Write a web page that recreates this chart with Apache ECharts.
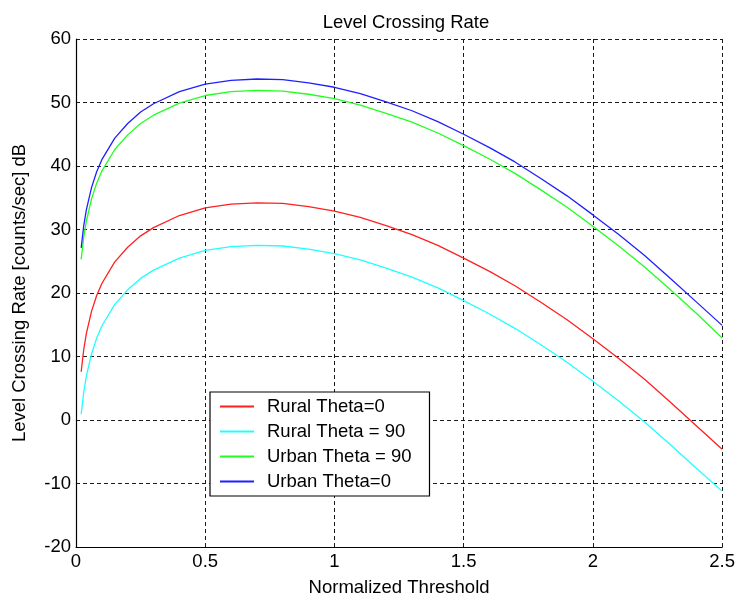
<!DOCTYPE html>
<html>
<head>
<meta charset="utf-8">
<title>Level Crossing Rate</title>
<script src="https://cdn.jsdelivr.net/npm/echarts@6/dist/echarts.min.js"></script>
<style>
  html, body { margin: 0; padding: 0; background: #ffffff; }
  #chart { width: 738px; height: 602px; }
</style>
</head>
<body>
<div id="chart"></div>
<script>
// Normalized threshold values (x) shared by all curves
const threshold = [0.02, 0.03, 0.04, 0.06, 0.08, 0.1, 0.15, 0.2, 0.25, 0.3, 0.4, 0.5, 0.6, 0.7, 0.8, 0.9,
  1.0, 1.1, 1.2, 1.3, 1.4, 1.5, 1.6, 1.7, 1.8, 1.9, 2.0, 2.1, 2.2, 2.3, 2.4, 2.5];

// Level crossing rate in dB for each environment / angle
const ruralTheta0 = [7.6, 11.1, 13.6, 17.1, 19.6, 21.5, 24.9, 27.2, 29.0, 30.3, 32.2, 33.4, 34.0, 34.2, 34.1, 33.6,
  32.9, 31.9, 30.6, 29.2, 27.5, 25.5, 23.4, 21.1, 18.5, 15.8, 12.8, 9.7, 6.4, 2.8, -0.9, -4.6];
const ruralTheta90 = [0.9, 4.4, 6.9, 10.4, 12.9, 14.8, 18.2, 20.5, 22.3, 23.6, 25.5, 26.7, 27.3, 27.5, 27.4, 26.9,
  26.2, 25.2, 23.9, 22.5, 20.8, 18.8, 16.7, 14.4, 11.8, 9.1, 6.1, 3.0, -0.3, -3.9, -7.6, -11.2];
const urbanTheta90 = [25.3, 28.8, 31.3, 34.8, 37.3, 39.2, 42.6, 44.9, 46.7, 48.0, 49.9, 51.1, 51.7, 51.9, 51.8, 51.3,
  50.6, 49.6, 48.3, 46.9, 45.2, 43.2, 41.1, 38.8, 36.2, 33.5, 30.5, 27.4, 24.1, 20.5, 16.8, 12.9];
const urbanTheta0 = [27.1, 30.6, 33.1, 36.6, 39.1, 41.0, 44.4, 46.7, 48.5, 49.8, 51.7, 52.9, 53.5, 53.7, 53.6, 53.1,
  52.4, 51.4, 50.1, 48.7, 47.0, 45.0, 42.9, 40.6, 38.0, 35.3, 32.3, 29.2, 25.9, 22.3, 18.6, 14.9];

const seriesNames = ['Rural Theta=0', 'Rural Theta = 90', 'Urban Theta = 90', 'Urban Theta=0'];
const seriesValues = [ruralTheta0, ruralTheta90, urbanTheta90, urbanTheta0];
const seriesColors = ['#ff2020', '#20ffff', '#20ff20', '#2020ff'];

const FONT = 'Arial, "Liberation Sans", Helvetica, sans-serif';
const FS = 18.5;

const gridLine = { show: true, lineStyle: { color: '#1a1a1a', width: 1, type: [4, 3] } };

const chart = echarts.init(document.getElementById('chart'), null, { renderer: 'canvas' });

chart.setOption({
  animation: false,
  backgroundColor: '#ffffff',
  title: {
    text: 'Level Crossing Rate',
    left: 401,
    textAlign: 'center',
    top: 8,
    textStyle: { fontFamily: FONT, fontSize: FS, fontWeight: 'normal', color: '#000' }
  },
  grid: { left: 76, right: 12, top: 39, bottom: 54, containLabel: false },
  xAxis: {
    type: 'value',
    min: 0, max: 2.5, interval: 0.5,
    name: 'Normalized Threshold',
    nameLocation: 'middle',
    nameGap: 31,
    nameTextStyle: { fontFamily: FONT, fontSize: FS, color: '#000' },
    axisLine: { show: true, onZero: false, lineStyle: { color: '#000', width: 1.2 } },
    axisTick: { show: false },
    axisLabel: { fontFamily: FONT, fontSize: FS, color: '#000', margin: 5 },
    splitLine: gridLine
  },
  yAxis: {
    type: 'value',
    min: -20, max: 60, interval: 10,
    name: 'Level Crossing Rate [counts/sec] dB',
    nameLocation: 'middle',
    nameRotate: 90,
    nameGap: 47,
    nameTextStyle: { fontFamily: FONT, fontSize: FS, color: '#000' },
    axisLine: { show: true, onZero: false, lineStyle: { color: '#000', width: 1.2 } },
    axisTick: { show: false },
    axisLabel: { fontFamily: FONT, fontSize: FS, color: '#000', margin: 5 },
    splitLine: gridLine
  },
  legend: {
    orient: 'vertical',
    left: 210,
    top: 392,
    data: seriesNames,
    icon: 'rect',
    itemWidth: 34,
    itemHeight: 2,
    itemGap: 6,
    padding: [5, 18, 5, 10],
    backgroundColor: '#ffffff',
    borderColor: '#000',
    borderWidth: 1.2,
    borderRadius: 0,
    textStyle: { fontFamily: FONT, fontSize: FS, lineHeight: 18.5, color: '#000', padding: [0, 0, 0, 8] }
  },
  series: seriesNames.map((name, i) => ({
    name: name,
    type: 'line',
    symbol: 'none',
    smooth: false,
    clip: true,
    color: seriesColors[i],
    itemStyle: { color: seriesColors[i] },
    lineStyle: { color: seriesColors[i], width: 1.3 },
    data: threshold.map((x, k) => [x, seriesValues[i][k]])
  }))
});
</script>
</body>
</html>
